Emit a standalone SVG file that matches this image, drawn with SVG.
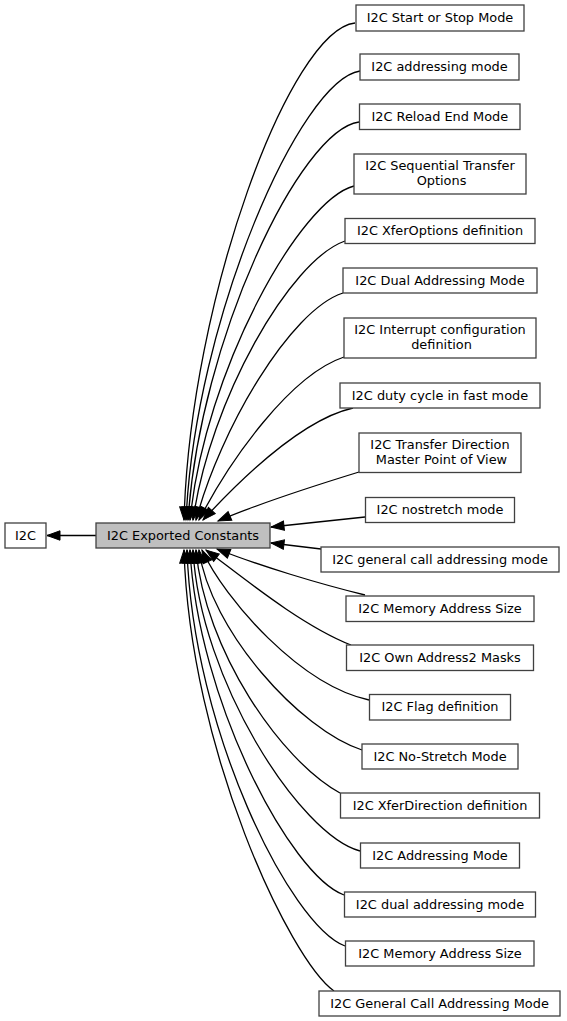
<svg xmlns="http://www.w3.org/2000/svg" width="567" height="1021" viewBox="0 0 567 1021">
<style>
.n rect{fill:#fff;stroke:#404040;stroke-width:1.3}
.n text{font-family:"DejaVu Sans",sans-serif;font-size:12.9px;fill:#000;text-anchor:middle}
.e path{fill:none;stroke:#000;stroke-width:1.3;marker-end:url(#ah)}
</style>
<defs>
<marker id="ah" markerUnits="userSpaceOnUse" markerWidth="16" markerHeight="12" refX="13" refY="4.7" orient="auto" overflow="visible">
<path d="M0,0 L13,4.7 L0,9.4 z" fill="#000" stroke="#000" stroke-width="1"/>
</marker>
</defs>
<rect width="567" height="1021" fill="#fff"/>
<g id="connectors" class="e">
<path d="M96,535.5 L47,535.5"/>
<path d="M355,23 C290,30 190,300 184,520"/>
<path d="M360,71 C300,80 195,320 186,520"/>
<path d="M359,122 C300,130 200,340 188,520"/>
<path d="M354,186 C300,200 205,370 190,520"/>
<path d="M345,241 C290,260 210,400 193,520"/>
<path d="M343,293 C290,310 220,430 196,520"/>
<path d="M344,357 C290,375 230,460 199,520"/>
<path d="M353,408 C300,420 240,480 203,520"/>
<path d="M359,472 C320,484 260,503 218,521"/>
<path d="M365,517 L271,527"/>
<path d="M321,549 L271,543"/>
<path d="M365,595 C320,584 260,566 217,549"/>
<path d="M351,645 C300,625 240,575 206,550"/>
<path d="M369,700 C300,685 225,600 202,550"/>
<path d="M362,750 C300,730 210,630 199,550"/>
<path d="M340,793 C280,760 205,650 196,550"/>
<path d="M360,851 C300,835 200,680 193,550"/>
<path d="M344,895 C290,875 198,700 190,550"/>
<path d="M345,946 C290,925 193,730 187,550"/>
<path d="M334,991 C290,960 190,750 184,550"/>
</g>
<g id="i2c" class="n"><rect x="5" y="523" width="41" height="25"/><text x="25.5" y="539.5">I2C</text></g>
<g id="exported" class="n"><rect x="96" y="523" width="174" height="25" style="fill:#bfbfbf"/><text x="183" y="539.5">I2C Exported Constants</text></g>
<g id="n1" class="n"><rect x="356" y="5" width="168" height="26"/><text x="440" y="22">I2C Start or Stop Mode</text></g>
<g id="n2" class="n"><rect x="360" y="54" width="159" height="26"/><text x="439.5" y="71">I2C addressing mode</text></g>
<g id="n3" class="n"><rect x="359.5" y="104" width="160.5" height="25.5"/><text x="439.8" y="120.7">I2C Reload End Mode</text></g>
<g id="n4" class="n"><rect x="354" y="154" width="172" height="40"/><text x="440" y="170">I2C Sequential Transfer</text><text x="441.5" y="185">Options</text></g>
<g id="n5" class="n"><rect x="345" y="218.5" width="190" height="25"/><text x="440" y="235">I2C XferOptions definition</text></g>
<g id="n6" class="n"><rect x="343" y="268" width="194" height="25"/><text x="440" y="284.5">I2C Dual Addressing Mode</text></g>
<g id="n7" class="n"><rect x="344" y="318" width="192" height="40"/><text x="440" y="334.3">I2C Interrupt configuration</text><text x="441.5" y="349">definition</text></g>
<g id="n8" class="n"><rect x="340" y="383" width="200" height="25"/><text x="440" y="399.5">I2C duty cycle in fast mode</text></g>
<g id="n9" class="n"><rect x="359" y="433" width="162" height="39.5"/><text x="440" y="449">I2C Transfer Direction</text><text x="441.5" y="463.5">Master Point of View</text></g>
<g id="n10" class="n"><rect x="365.5" y="497.5" width="149" height="25"/><text x="440" y="514">I2C nostretch mode</text></g>
<g id="n11" class="n"><rect x="321" y="547" width="238" height="25"/><text x="440" y="563.5">I2C general call addressing mode</text></g>
<g id="n12" class="n"><rect x="346" y="596" width="188" height="25.5"/><text x="440" y="612.7">I2C Memory Address Size</text></g>
<g id="n13" class="n"><rect x="346.5" y="645" width="187" height="25.5"/><text x="440" y="661.7">I2C Own Address2 Masks</text></g>
<g id="n14" class="n"><rect x="369.5" y="694.5" width="141" height="25.5"/><text x="440" y="711">I2C Flag definition</text></g>
<g id="n15" class="n"><rect x="362" y="744" width="156" height="25"/><text x="440" y="760.5">I2C No-Stretch Mode</text></g>
<g id="n16" class="n"><rect x="340.5" y="793" width="199" height="25"/><text x="440" y="809.5">I2C XferDirection definition</text></g>
<g id="n17" class="n"><rect x="360.5" y="843" width="159" height="25"/><text x="440" y="859.5">I2C Addressing Mode</text></g>
<g id="n18" class="n"><rect x="344.5" y="892" width="191" height="25"/><text x="440" y="908.5">I2C dual addressing mode</text></g>
<g id="n19" class="n"><rect x="345.5" y="941" width="188.5" height="25"/><text x="440" y="957.5">I2C Memory Address Size</text></g>
<g id="n20" class="n"><rect x="319" y="991" width="241" height="25"/><text x="439.5" y="1007.5">I2C General Call Addressing Mode</text></g>
</svg>
